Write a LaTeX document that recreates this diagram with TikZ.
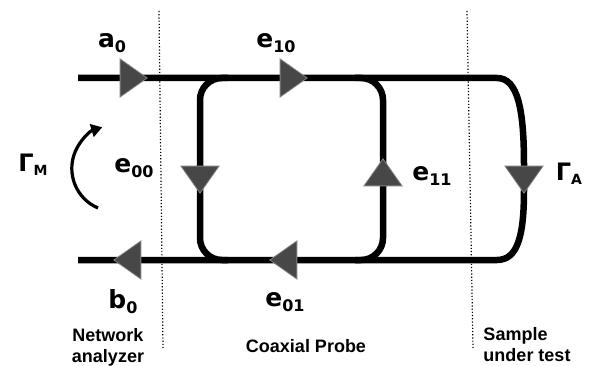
\documentclass[tikz,border=0pt]{standalone}
\usepackage{fontspec}
\setmainfont{DejaVu Sans}
\newfontfamily\capfont{Liberation Sans}
\usetikzlibrary{shapes.geometric,arrows.meta}
\newcommand\idx[2]{#1\raisebox{-5pt}{\fontsize{16}{16}\selectfont #2}}
\newcommand\refl[1]{\fontsize{24}{26}\selectfont Γ\raisebox{-4pt}{\fontsize{14}{14}\selectfont #1}}
\tikzset{
  wire/.style={line width=6.5pt},
  tri/.style={isosceles triangle, isosceles triangle stretches, minimum width=38pt,
    minimum height=27pt, inner sep=0pt, fill=black!72, draw=black!50, line width=0.8pt},
  sep/.style={dotted, line width=1.2pt},
  lbl/.style={font=\bfseries\fontsize{25}{27}\selectfont, inner sep=0pt},
  capt/.style={font=\capfont\bfseries\fontsize{18}{21}\selectfont, align=center, inner sep=0pt}
}
\begin{document}
\begin{tikzpicture}[x=1pt,y=-1pt]
\useasboundingbox (0,0) rectangle (589,366);
\coordinate (in) at (78,78);
\coordinate (out) at (78,260);
\coordinate (tl) at (228,78);
\coordinate (bl) at (228,260);
\coordinate (tr) at (355,78);
\coordinate (br) at (355,260);
\coordinate (te) at (497,78);
\coordinate (be) at (497,260);
\draw[sep] (159,11) -- (163,348);
\draw[sep] (467,11) -- (473,348);
\draw[wire] (in) -- (te) .. controls (518,78) and (524,110) .. (524,165) -- (524,190)
  .. controls (524,235) and (518,260) .. (be) -- (out);
\draw[wire,rounded corners=22pt] (tl) -- (200,78) -- (200,260) -- (bl);
\draw[wire,rounded corners=22pt] (tr) -- (383,78) -- (383,260) -- (br);
\node[tri] (a0t) at (130,78) {};
\node[tri] (e10t) at (290,78) {};
\node[tri,rotate=-90] (e00t) at (200,176) {};
\node[tri,rotate=90] (e11t) at (383,176) {};
\node[tri,rotate=-90] (gat) at (524,176) {};
\node[tri,rotate=180] (b0t) at (131,260) {};
\node[tri,rotate=180] (e01t) at (287,260) {};
\draw[line width=3.2pt,-{Triangle[length=11pt,width=13pt]}] (98,208) arc[start angle=247,end angle=107,radius=43pt];
\node[lbl] (a0) at (112,43) {\idx{a}{0}};
\node[lbl] (e10) at (276,43) {\idx{e}{10}};
\node[lbl] (e00) at (134,168) {\idx{e}{00}};
\node[lbl] (e11) at (432,176) {\idx{e}{11}};
\node[lbl] (b0) at (123,302) {\idx{b}{0}};
\node[lbl] (e01) at (285,302) {\idx{e}{01}};
\node[lbl] (gm) at (33,165) {\refl{M}};
\node[lbl] (ga) at (569,174) {\refl{A}};
\node[capt] (na) at (108,347) {Network\\analyzer};
\node[capt] (cp) at (306,346) {Coaxial Probe};
\node[capt,align=left] (sut) at (527,345) {Sample\\under test};
\end{tikzpicture}
\end{document}
